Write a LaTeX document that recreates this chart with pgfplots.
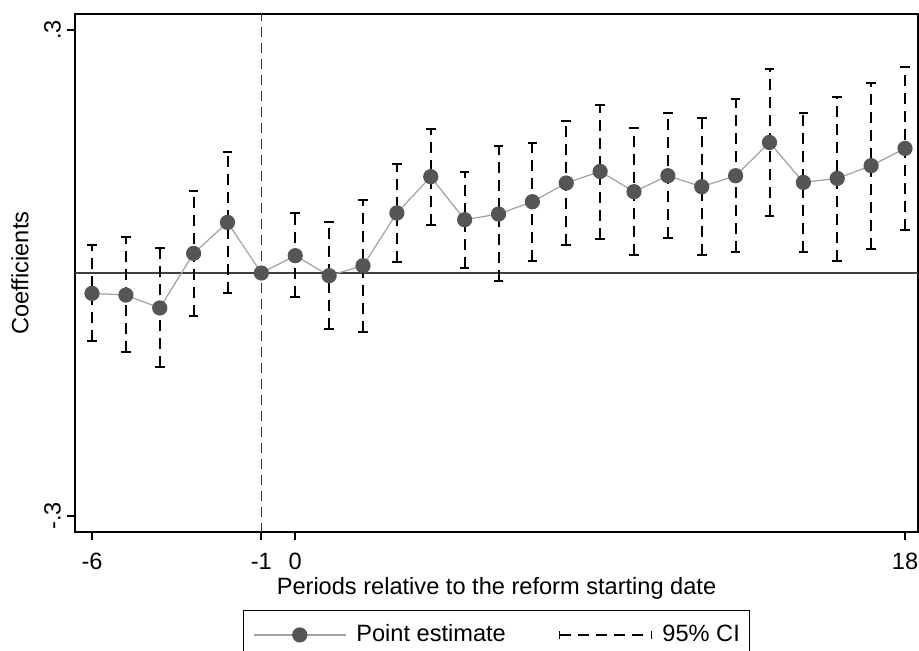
\documentclass[border=0pt]{standalone}
\usepackage{fontspec}
\setmainfont{Liberation Sans}
\usepackage{pgfplots}
\pgfplotsset{compat=1.18}
\definecolor{cline}{HTML}{A0A0A0}
\definecolor{cmark}{HTML}{555555}
\definecolor{cref}{HTML}{404040}
\definecolor{cvert}{HTML}{333333}
\begin{document}
\fontsize{11.8pt}{14pt}\selectfont
\begin{tikzpicture}
\begin{axis}[
  name=ax,
  scale only axis, width=421.5pt, height=259pt,
  xmin=-6.502, xmax=18.384, ymin=-0.3198, ymax=0.3198,
  axis line style={line width=0.9pt, black},
  xtick={-6,-1,0,18}, xticklabels={-6,-1,0,18},
  ytick={-0.3,0.3}, yticklabels={-.3,.3},
  tick align=outside, tick pos=left,
  major tick length=4pt, tick style={line width=0.9pt, black},
  yticklabel style={xshift=1pt, rotate=90, anchor=south},
  xticklabel style={yshift=-2.5pt},
  /pgf/number format/assume math mode=true,
  tick label style={font=\fontsize{11.8pt}{14pt}\selectfont},
  label style={font=\fontsize{11.8pt}{14pt}\selectfont},
  xlabel={Periods relative to the reform starting date},
  ylabel={Coefficients},
  xlabel style={at={(axis description cs:0.5,-0.1085)}, anchor=center},
  ylabel style={at={(axis description cs:-0.0652,0.5)}, anchor=center},
  legend columns=2,
  legend style={at={(axis description cs:0.5,-0.1506)}, anchor=north,
    draw=black, line width=0.6pt, inner xsep=5pt, inner ysep=5pt,
    font=\fontsize{11.8pt}{14pt}\selectfont,
    nodes={inner xsep=0pt, inner ysep=2pt},
    /tikz/column sep=0pt,
    /tikz/every odd column/.append style={column sep=5pt},
    /tikz/every even column/.append style={column sep=26.5pt}},
]
\addlegendimage{legend image code/.code={
  \draw[cline, line width=0.6pt] (0pt,0pt) -- (46pt,0pt);
  \fill[cmark] (23pt,0pt) circle (3.5pt);}}
\addlegendentry{Point estimate}
\addlegendimage{legend image code/.code={
  \draw[black, line width=0.8pt, dash pattern=on 5.5pt off 3.6pt] (0pt,0pt) -- (46pt,0pt);
  \draw[black, line width=0.8pt] (0pt,-2pt) -- (0pt,2pt);
  \draw[black, line width=0.8pt] (46pt,-2pt) -- (46pt,2pt);}}
\addlegendentry{95\% CI\hspace{1.5pt}}

% reference lines
\addplot[cref, line width=0.8pt, forget plot] coordinates {(-7,0) (19,0)};
\addplot[cvert, line width=0.8pt, dash pattern=on 5pt off 3pt, forget plot] coordinates {(-1,-0.4) (-1,0.4)};

% confidence intervals
\addplot[black, line width=1pt, dash pattern=on 5.5pt off 3.5pt, mark=-, mark size=2.4pt,
  mark options={solid, line width=1pt}, unbounded coords=jump, forget plot] coordinates {
(-6,-0.0844) (-6,0.0346) (-6,nan)
(-5,-0.0980) (-5,0.0440) (-5,nan)
(-4,-0.1165) (-4,0.0304) (-4,nan)
(-3,-0.0527) (-3,0.1016) (-3,nan)
(-2,-0.0247) (-2,0.1489) (-2,nan)
(0,-0.0300) (0,0.0736) (0,nan)
(1,-0.0691) (1,0.0625) (1,nan)
(2,-0.0733) (2,0.0905) (2,nan)
(3,0.0131) (3,0.1346) (3,nan)
(4,0.0593) (4,0.1778) (4,nan)
(5,0.0057) (5,0.1251) (5,nan)
(6,-0.0104) (6,0.1572) (6,nan)
(7,0.0152) (7,0.1600) (7,nan)
(8,0.0346) (8,0.1880) (8,nan)
(9,0.0420) (9,0.2074) (9,nan)
(10,0.0222) (10,0.1790) (10,nan)
(11,0.0432) (11,0.1970) (11,nan)
(12,0.0222) (12,0.1909) (12,nan)
(13,0.0263) (13,0.2148) (13,nan)
(14,0.0699) (14,0.2519) (14,nan)
(15,0.0254) (15,0.1975) (15,nan)
(16,0.0152) (16,0.2168) (16,nan)
(17,0.0296) (17,0.2346) (17,nan)
(18,0.0531) (18,0.2538)
};

% point estimates
\addplot[cline, line width=0.6pt, mark=*, mark size=3.5pt,
  mark options={fill=cmark, draw=cmark}, forget plot] coordinates {
(-6,-0.0252) (-5,-0.0272) (-4,-0.0432) (-3,0.0242) (-2,0.0625) (-1,0)
(0,0.0214) (1,-0.0033) (2,0.0090) (3,0.0741) (4,0.1189) (5,0.0658)
(6,0.0728) (7,0.0880) (8,0.1111) (9,0.1254) (10,0.1004) (11,0.1201)
(12,0.1065) (13,0.1201) (14,0.1612) (15,0.1119) (16,0.1168) (17,0.1325)
(18,0.1538)
};
\coordinate (bl) at (rel axis cs:0,0);
\coordinate (tr) at (rel axis cs:1,1);
\end{axis}
\pgfresetboundingbox
\path ([shift={(-37.5pt,-59.5pt)}]bl) rectangle ([shift={(0.5pt,7pt)}]tr);
\end{tikzpicture}
\end{document}
